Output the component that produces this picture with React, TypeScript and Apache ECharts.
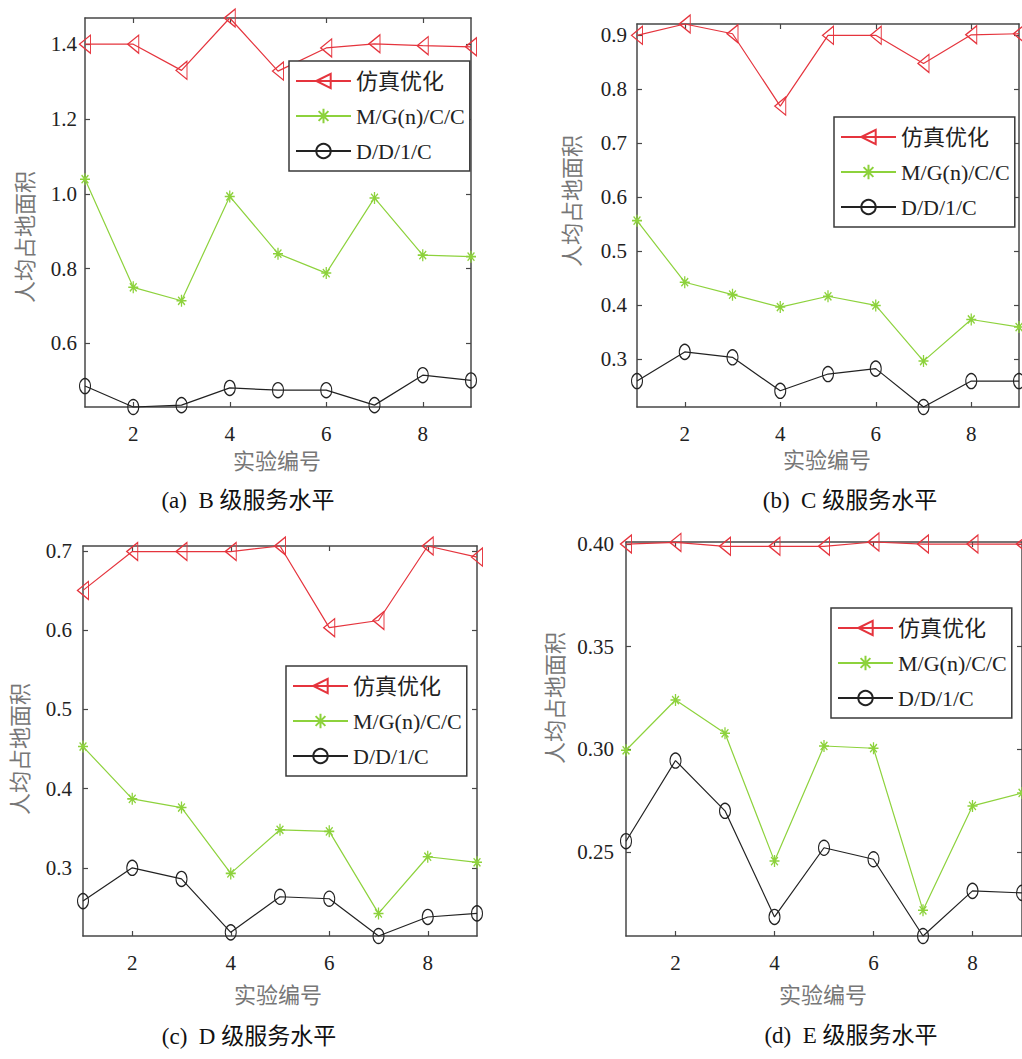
import React, { useEffect, useRef } from "react";
import * as echarts from "echarts";

// Experiment numbers along the x axis
const experimentIds = [1, 2, 3, 4, 5, 6, 7, 8, 9];
const xTickValues = [2, 4, 6, 8];
const seriesNames = ["仿真优化", "M/G(n)/C/C", "D/D/1/C"];

// (a) B 级服务水平
const levelBSim = [1.4, 1.4, 1.33, 1.47, 1.328, 1.39, 1.401, 1.396, 1.393];
const levelBMG = [1.039, 0.75, 0.714, 0.993, 0.84, 0.788, 0.989, 0.836, 0.832];
const levelBDD = [0.486, 0.43, 0.435, 0.481, 0.475, 0.475, 0.435, 0.515, 0.501];
const levelBTicks = [0.6, 0.8, 1.0, 1.2, 1.4];

// (b) C 级服务水平
const levelCSim = [0.9, 0.921, 0.903, 0.769, 0.9, 0.9, 0.848, 0.901, 0.903];
const levelCMG = [0.557, 0.443, 0.42, 0.397, 0.417, 0.4, 0.297, 0.374, 0.36];
const levelCDD = [0.26, 0.314, 0.304, 0.242, 0.273, 0.283, 0.212, 0.26, 0.26];
const levelCTicks = [0.3, 0.4, 0.5, 0.6, 0.7, 0.8, 0.9];

// (c) D 级服务水平
const levelDSim = [0.65, 0.699, 0.699, 0.699, 0.706, 0.603, 0.612, 0.706, 0.692];
const levelDMG = [0.453, 0.387, 0.376, 0.293, 0.348, 0.346, 0.2425, 0.314, 0.307];
const levelDDD = [0.258, 0.3, 0.286, 0.2186, 0.2635, 0.261, 0.214, 0.238, 0.2425];
const levelDTicks = [0.3, 0.4, 0.5, 0.6, 0.7];

// (d) E 级服务水平
const levelESim = [0.4, 0.4008, 0.3989, 0.3989, 0.3989, 0.401, 0.4, 0.4, 0.4];
const levelEMG = [0.2995, 0.324, 0.3078, 0.2455, 0.3016, 0.3005, 0.2215, 0.2724, 0.2787];
const levelEDD = [0.2552, 0.2945, 0.27, 0.2183, 0.252, 0.2464, 0.209, 0.231, 0.23];
const levelETicks = [0.25, 0.3, 0.35, 0.4];

const RED = "#e5343d";
const GREEN = "#8dd23c";
const BLACK = "#222222";
const AXIS = "#474747";
const SERIF = "'Liberation Serif', 'Times New Roman', 'Noto Sans CJK SC', serif";
const CJK = "'Noto Sans CJK SC', 'Liberation Serif', sans-serif";

const ASTERISK = "path://M5 0L5 10M0 5L10 5M1.6 1.6L8.4 8.4M1.6 8.4L8.4 1.6";

type Panel = {
  caption: string;
  sim: number[];
  mg: number[];
  dd: number[];
  yMin: number;
  yMax: number;
  yTicks: number[];
  digits: number;
  grid: { left: number; top: number; width: number; height: number };
  labelMargin: number;
  legendPos: { left: number; top: number };
  yNamePos: [number, number];
  xNamePos: [number, number];
  captionPos: [number, number];
};

const panels: Panel[] = [
  {
    caption: "(a)  B 级服务水平",
    sim: levelBSim, mg: levelBMG, dd: levelBDD,
    yMin: 0.43, yMax: 1.47, yTicks: levelBTicks, digits: 1,
    grid: { left: 85, top: 18, width: 386, height: 389 },
    labelMargin: 8,
    legendPos: { left: 289, top: 61 },
    yNamePos: [23, 237], xNamePos: [277, 459], captionPos: [248, 500],
  },
  {
    caption: "(b)  C 级服务水平",
    sim: levelCSim, mg: levelCMG, dd: levelCDD,
    yMin: 0.212, yMax: 0.921, yTicks: levelCTicks, digits: 1,
    grid: { left: 637, top: 24, width: 382, height: 383 },
    labelMargin: 10,
    legendPos: { left: 834, top: 117 },
    yNamePos: [570, 201], xNamePos: [827, 458], captionPos: [850, 500],
  },
  {
    caption: "(c)  D 级服务水平",
    sim: levelDSim, mg: levelDMG, dd: levelDDD,
    yMin: 0.214, yMax: 0.706, yTicks: levelDTicks, digits: 1,
    grid: { left: 83, top: 546, width: 394, height: 390 },
    labelMargin: 11,
    legendPos: { left: 286, top: 666 },
    yNamePos: [18, 749], xNamePos: [278, 993], captionPos: [249, 1036],
  },
  {
    caption: "(d)  E 级服务水平",
    sim: levelESim, mg: levelEMG, dd: levelEDD,
    yMin: 0.209, yMax: 0.401, yTicks: levelETicks, digits: 2,
    grid: { left: 626, top: 542, width: 396, height: 394 },
    labelMargin: 12,
    legendPos: { left: 831, top: 608 },
    yNamePos: [553, 698], xNamePos: [823, 993], captionPos: [851, 1035],
  },
];

function buildOption() {
  const grid: any[] = [];
  const xAxis: any[] = [];
  const yAxis: any[] = [];
  const series: any[] = [];
  const legend: any[] = [];
  const graphic: any[] = [];

  const axisLine = { show: true, lineStyle: { color: AXIS, width: 1.5 } };

  panels.forEach((p, i) => {
    grid.push({ ...p.grid, containLabel: false });

    // bottom + top x axes (box with inward ticks)
    [false, true].forEach((mirror) => {
      xAxis.push({
        type: "value",
        gridIndex: i,
        position: mirror ? "top" : "bottom",
        min: 1,
        max: 9,
        axisLine,
        splitLine: { show: false },
        axisTick: {
          show: true,
          inside: true,
          length: 5,
          customValues: xTickValues,
          lineStyle: { color: AXIS, width: 1.2 },
        },
        axisLabel: {
          show: !mirror,
          customValues: xTickValues,
          margin: 16,
          fontSize: 21,
          fontFamily: SERIF,
          color: "#222",
        },
      });
    });

    // left + right y axes
    [false, true].forEach((mirror) => {
      yAxis.push({
        type: "value",
        gridIndex: i,
        position: mirror ? "right" : "left",
        min: p.yMin,
        max: p.yMax,
        axisLine,
        splitLine: { show: false },
        axisTick: {
          show: true,
          inside: true,
          length: 5,
          customValues: p.yTicks,
          lineStyle: { color: AXIS, width: 1.2 },
        },
        axisLabel: {
          show: !mirror,
          customValues: p.yTicks,
          margin: p.labelMargin,
          fontSize: 21,
          fontFamily: SERIF,
          color: "#222",
          formatter: (v: number) => v.toFixed(p.digits),
        },
      });
    });

    const pts = (vals: number[]) => experimentIds.map((x, k) => [x, vals[k]]);
    const common = {
      type: "line",
      xAxisIndex: 2 * i,
      yAxisIndex: 2 * i,
      clip: false,
      z: 3,
    };

    series.push({
      ...common,
      name: seriesNames[0],
      data: pts(p.sim),
      symbol: "triangle",
      symbolSize: [18, 11],
      symbolRotate: 90,
      lineStyle: { color: RED, width: 1.2 },
      itemStyle: { color: "rgba(255,255,255,0)", borderColor: RED, borderWidth: 1.2 },
    });
    series.push({
      ...common,
      name: seriesNames[1],
      data: pts(p.mg),
      symbol: ASTERISK,
      symbolSize: [10, 12],
      lineStyle: { color: GREEN, width: 1.2 },
      itemStyle: { color: "rgba(255,255,255,0)", borderColor: GREEN, borderWidth: 1.4 },
    });
    series.push({
      ...common,
      name: seriesNames[2],
      data: pts(p.dd),
      symbol: "circle",
      symbolSize: [11, 15],
      lineStyle: { color: BLACK, width: 1.2 },
      itemStyle: { color: "rgba(255,255,255,0)", borderColor: BLACK, borderWidth: 1.2 },
    });

    legend.push({
      left: p.legendPos.left,
      top: p.legendPos.top,
      orient: "vertical",
      itemWidth: 55,
      itemHeight: 18,
      itemGap: 13,
      padding: [9, 5, 9, 6],
      backgroundColor: "#ffffff",
      borderColor: "#3a3a3a",
      borderWidth: 1.5,
      borderRadius: 0,
      selectedMode: false,
      z: 10,
      textStyle: { fontSize: 22, lineHeight: 22, fontFamily: SERIF, color: "#222" },
      data: seriesNames,
    });

    graphic.push({
      type: "text",
      x: p.yNamePos[0],
      y: p.yNamePos[1],
      rotation: Math.PI / 2,
      style: {
        text: "人均占地面积",
        fontSize: 22,
        fontFamily: CJK,
        fill: "#777",
        align: "center",
        verticalAlign: "middle",
      },
    });
    graphic.push({
      type: "text",
      x: p.xNamePos[0],
      y: p.xNamePos[1],
      style: {
        text: "实验编号",
        fontSize: 22,
        fontFamily: CJK,
        fill: "#777",
        align: "center",
        verticalAlign: "middle",
      },
    });
    graphic.push({
      type: "text",
      x: p.captionPos[0],
      y: p.captionPos[1],
      style: {
        text: p.caption,
        fontSize: 23,
        fontFamily: SERIF,
        fill: "#111",
        align: "center",
        verticalAlign: "middle",
      },
    });
  });

  return {
    animation: false,
    backgroundColor: "#ffffff",
    grid,
    xAxis,
    yAxis,
    series,
    legend,
    graphic,
  };
}

export default function App() {
  const ref = useRef<HTMLDivElement>(null);

  useEffect(() => {
    if (!ref.current) return;
    const chart = echarts.init(ref.current, null, { renderer: "svg" });
    chart.setOption(buildOption() as any);
    return () => chart.dispose();
  }, []);

  return (
    <div
      ref={ref}
      style={{
        position: "fixed",
        left: 0,
        top: 0,
        width: 1022,
        height: 1059,
        background: "#fff",
      }}
    />
  );
}
